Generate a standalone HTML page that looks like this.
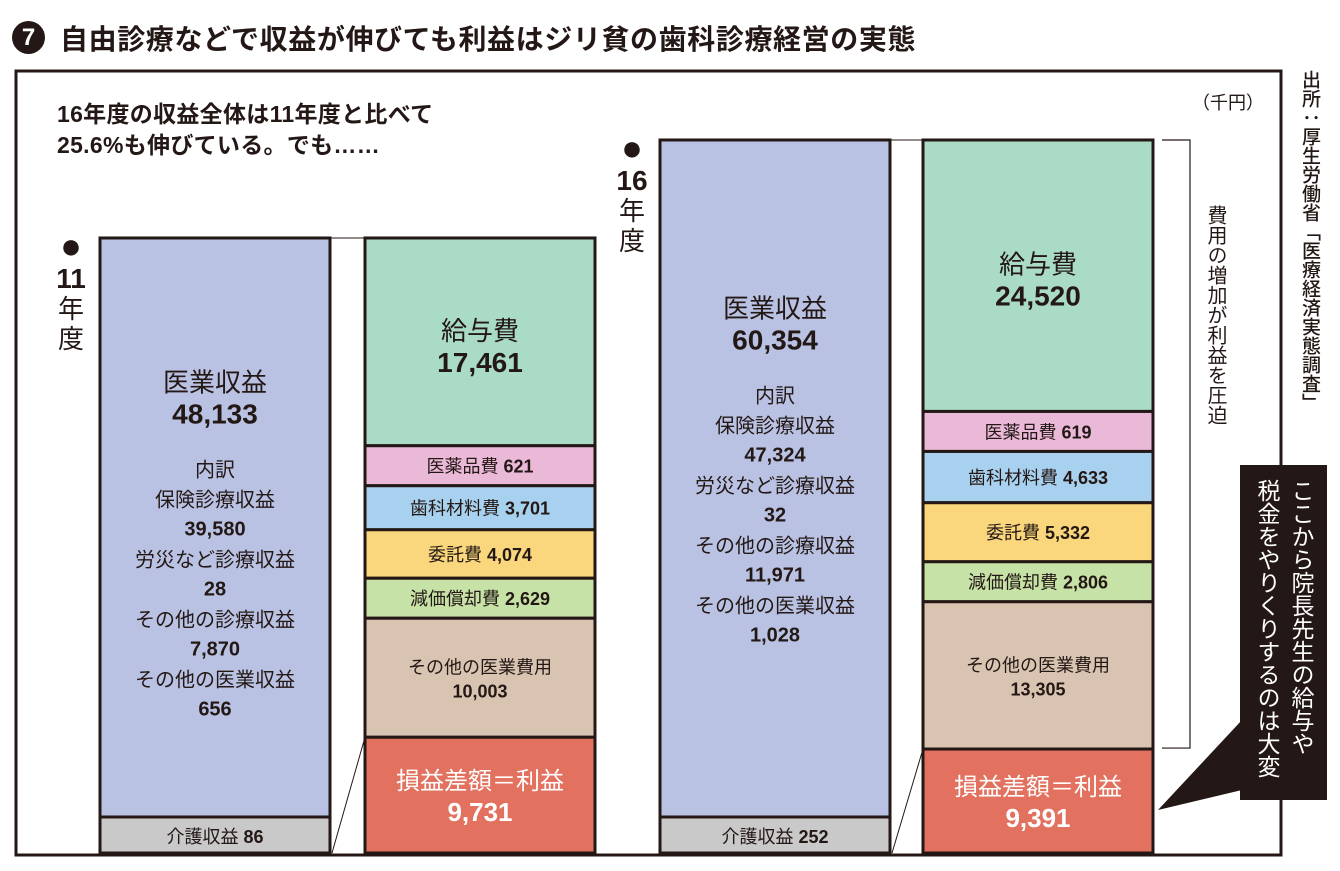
<!DOCTYPE html>
<html><head><meta charset="utf-8">
<style>
html,body{margin:0;padding:0;background:#fff;}
body{width:1340px;height:871px;position:relative;overflow:hidden;font-family:"Liberation Sans","Noto Sans CJK JP",sans-serif;color:#231815;}
.abs{position:absolute;}
.vert{writing-mode:vertical-rl;text-orientation:upright;}
</style></head><body>
<div class="abs" style="left:12px;top:21px;width:33px;height:33px;border-radius:50%;background:#231815;color:#fff;font-weight:bold;font-size:24px;line-height:33px;text-align:center;">7</div>
<div class="abs" style="left:60px;top:18px;font-size:28px;font-weight:bold;letter-spacing:0.6px;">自由診療などで収益が伸びても利益はジリ貧の歯科診療経営の実態</div>
<div class="abs vert" style="left:1298px;top:70px;font-size:19px;line-height:22px;font-weight:500;">出所：厚生労働省「医療経済実態調査」</div>
<svg class="abs" style="left:0;top:0" width="1340" height="871" id="chart">
<rect x="16" y="71" width="1265" height="784" fill="none" stroke="#231815" stroke-width="3"/>
<g id="bars"></g>
</svg>
<div class="abs" style="left:57px;top:99px;font-size:23px;font-weight:bold;line-height:31px;letter-spacing:0.3px;">16年度の収益全体は11年度と比べて<br>25.6%も伸びている。でも……</div>
<div class="abs" style="left:1192px;top:89px;font-size:18px;">（千円）</div>
<div class="abs" style="left:52px;top:228px;width:38px;text-align:center;font-size:26px;line-height:30px;"><span style="font-size:36px;line-height:36px">●</span><br><b style="font-size:28px">11</b><br>年<br>度</div>
<div class="abs" style="left:613px;top:130px;width:38px;text-align:center;font-size:26px;line-height:30px;"><span style="font-size:36px;line-height:36px">●</span><br><b style="font-size:28px">16</b><br>年<br>度</div>
<div class="abs vert" style="left:1203px;top:205px;font-size:20px;line-height:24px;">費用の増加が利益を圧迫</div>
<div class="abs vert" style="left:1240px;top:465px;width:87px;height:335px;background:#231815;color:#fff;font-size:23px;line-height:34px;box-sizing:border-box;padding:14px 9px 0 0;">ここから院長先生の給与や<br>税金をやりくりするのは大変</div>
<script>
const years = ["11年度","16年度"];
const revLabels = ["医業収益","介護収益"];
const rev11 = [48133, 86];
const rev16 = [60354, 252];
const revDetailLabels = ["保険診療収益","労災など診療収益","その他の診療収益","その他の医業収益"];
const revDetail11 = [39580, 28, 7870, 656];
const revDetail16 = [47324, 32, 11971, 1028];
const costLabels = ["給与費","医薬品費","歯科材料費","委託費","減価償却費","その他の医業費用","損益差額＝利益"];
const cost11 = [17461, 621, 3701, 4074, 2629, 10003, 9731];
const cost16 = [24520, 619, 4633, 5332, 2806, 13305, 9391];
const costColors = ["#a9dbc6","#eab9d7","#a8d1ef","#fad77c","#c6e2a6","#d9c4b1","#e2725f"];
const NS="http://www.w3.org/2000/svg";
const g=document.getElementById('bars');
const BASE=853;
function totalToHeight(t){return 233.5+0.007912*t;}
function fmt(v){return v.toLocaleString('en-US');}
function segHeights(vals,H,minH){
  const tot=vals.reduce((a,b)=>a+b,0);
  let raw=vals.map(v=>v/tot*H);
  const small=raw.map(h=>h<minH);
  const nSmall=small.filter(s=>s).length;
  const bigSum=raw.reduce((a,h,i)=>a+(small[i]?0:h),0);
  const f=(H-nSmall*minH)/bigSum;
  return raw.map((h,i)=>small[i]?minH:h*f);
}
function el(tag,attrs,parent){const e=document.createElementNS(NS,tag);for(const k in attrs)e.setAttribute(k,attrs[k]);(parent||g).appendChild(e);return e;}
function txt(x,y,s,size,bold,name,fill){
  const t=el('text',{x:x,y:y,'text-anchor':'middle','font-size':size,'font-weight':bold?'bold':'normal',fill:fill||'#231815','font-family':'"Liberation Sans","Noto Sans CJK JP",sans-serif'});
  t.textContent=s;
  
  
  return t;
}
function drawYear(rev,detail,cost,rx,cx,yi){
  const W=230;
  const H=totalToHeight(rev[0]+rev[1]);
  const top=BASE-H;
  const rh=segHeights(rev,H,36);
  let y=top;
  const revColors=["#b9c2e3","#c9c9c9"];
  const revTops=[];
  rh.forEach((h,i)=>{
    const r=el('rect',{x:rx,y:y,width:W,height:h,fill:revColors[i],stroke:'#231815','stroke-width':3});
    
    
    revTops.push(y);y+=h;
  });
  const mx=rx+W/2;
  txt(mx,revTops[0]+H*0.245+3,revLabels[0],26,false,'revenue-label');
  txt(mx,revTops[0]+H*0.245+35,fmt(rev[0]),28,true,'revenue-value');
  let ty=revTops[0]+H*0.245+88;
  txt(mx,ty,'内訳',20,false,'breakdown-label');
  revDetailLabels.forEach((l,i)=>{
    txt(mx,ty+30+i*60,l,20,false,'breakdown-item-label');
    txt(mx,ty+59+i*60,fmt(detail[i]),20,true,'breakdown-item-value');
  });
  const ct=txt(mx,revTops[1]+26,revLabels[1]+' ',18,false,'care-revenue-label');
  const cs=document.createElementNS(NS,'tspan');cs.setAttribute('font-weight','bold');cs.textContent=fmt(rev[1]);ct.appendChild(cs);
  const ch=segHeights(cost,H,40);
  y=top;
  let profitTop=0;
  ch.forEach((h,i)=>{
    const r=el('rect',{x:cx,y:y,width:W,height:h,fill:costColors[i],stroke:'#231815','stroke-width':3});
    
    
    const m=cx+W/2;
    if(i===0){txt(m,y+h/2-2,costLabels[i],26,false,'cost-label');txt(m,y+h/2+30,fmt(cost[i]),28,true,'cost-value');}
    else if(i===5){txt(m,y+h/2-4,costLabels[i],18,false,'cost-label');txt(m,y+h/2+20,fmt(cost[i]),18,true,'cost-value');}
    else if(i===6){profitTop=y;txt(m,y+h/2-6,costLabels[i],24,false,'profit-label','#fff');txt(m,y+h/2+26,fmt(cost[i]),26,true,'profit-value','#fff');}
    else {const t=txt(m,y+h/2+7,costLabels[i]+' ',18,false,'cost-label');const s=document.createElementNS(NS,'tspan');s.setAttribute('font-weight','bold');s.textContent=fmt(cost[i]);t.appendChild(s);}
    y+=h;
  });
  const l1=el('line',{x1:rx+W,y1:top,x2:cx,y2:top,stroke:'#231815','stroke-width':1});
  
  const l2=el('line',{x1:rx+W+2,y1:BASE,x2:cx,y2:profitTop,stroke:'#231815','stroke-width':1});
  
  return {top:top,profitTop:profitTop};
}
drawYear(rev11,revDetail11,cost11,100,365,0);
const r16=drawYear(rev16,revDetail16,cost16,660,923,1);
const br=el('polyline',{points:`1162,${r16.top} 1190,${r16.top} 1190,${r16.profitTop-1} 1162,${r16.profitTop-1}`,fill:'none',stroke:'#231815','stroke-width':1.2});

const ptr=el('polygon',{points:'1242,720 1242,790 1158,810',fill:'#231815'});

</script>
</body></html>
